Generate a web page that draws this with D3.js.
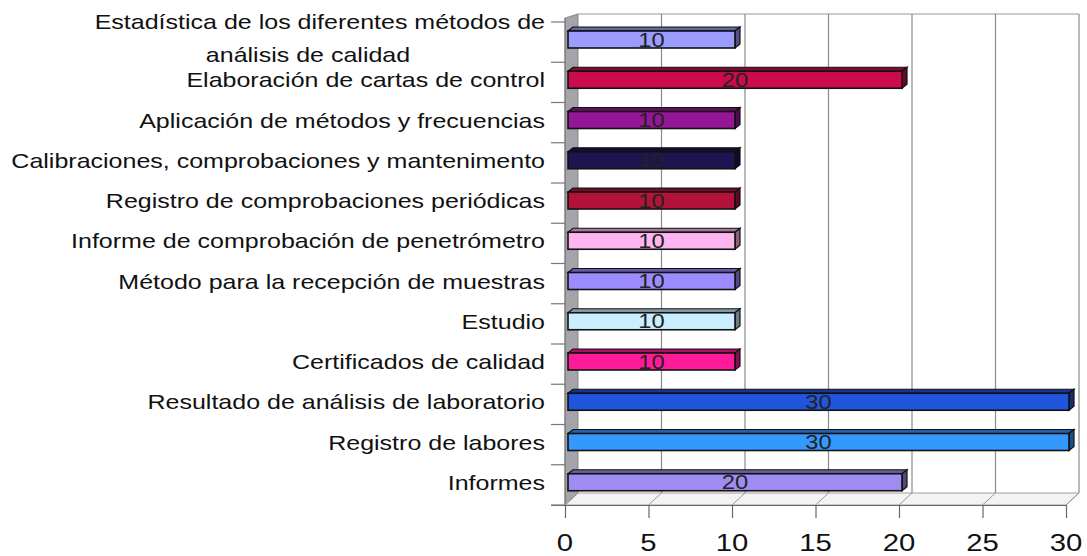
<!DOCTYPE html>
<html>
<head>
<meta charset="utf-8">
<script src="https://cdn.jsdelivr.net/npm/d3@7"></script>
<style>
  html, body { margin: 0; padding: 0; background: #fff; }
  svg { display: block; }
  text { font-family: "Liberation Sans", Arial, sans-serif; fill: #111; }
</style>
</head>
<body>
<svg id="chart" width="1087" height="556"></svg>
<script>
// Categories listed top to bottom
const categories = [
  "Estadística de los diferentes métodos de|análisis de calidad",
  "Elaboración de cartas de control",
  "Aplicación de métodos y frecuencias",
  "Calibraciones, comprobaciones y mantenimento",
  "Registro de comprobaciones periódicas",
  "Informe de comprobación de penetrómetro",
  "Método para la recepción de muestras",
  "Estudio",
  "Certificados de calidad",
  "Resultado de análisis de laboratorio",
  "Registro de labores",
  "Informes"
];
const values = [10, 20, 10, 10, 10, 10, 10, 10, 10, 30, 30, 20];
const barColors = [
  "#9c9cff", "#cc0a4e", "#951796", "#1e1450", "#b3123a", "#ffb6f0",
  "#9c8cff", "#caeeff", "#ff1a9a", "#2255dd", "#3399ff", "#a08cf0"
];
const xTickValues = [0, 5, 10, 15, 20, 25, 30];

const svg = d3.select("#chart");

// Front plane scale and depth offset of the 3D box
const x = d3.scaleLinear().domain([0, 30]).range([565, 1066]);
const y = d3.scaleBand().domain(categories).range([22, 505]);
const depthX = 13, depthY = -12;
const floorY = 505, wallTop = 14;
const stretch = 1.22;
const labelSize = "20.5px";

// Left side wall
svg.append("path")
  .attr("d", `M${x(0)},${floorY}L${x(0) + depthX},${floorY + depthY}L${x(0) + depthX},${wallTop}L${x(0)},${wallTop + 4}Z`)
  .attr("fill", "#a4a4aa").attr("stroke", "#777").attr("stroke-width", 0.8);

// Floor
svg.append("path")
  .attr("d", `M${x(0)},${floorY}L${x(30)},${floorY}L${x(30) + depthX},${floorY + depthY}L${x(0) + depthX},${floorY + depthY}Z`)
  .attr("fill", "#f3f3f3").attr("stroke", "#888").attr("stroke-width", 0.8);

// Back wall outline and vertical gridlines
svg.append("line")
  .attr("x1", x(0) + depthX).attr("x2", x(30) + depthX)
  .attr("y1", wallTop).attr("y2", wallTop)
  .attr("stroke", "#999").attr("stroke-width", 1.2);
svg.selectAll(".grid").data(xTickValues.slice(1)).join("line")
  .attr("x1", d => x(d) + depthX).attr("x2", d => x(d) + depthX)
  .attr("y1", wallTop).attr("y2", floorY + depthY)
  .attr("stroke", "#8a8a8a").attr("stroke-width", 1.2);
// Floor lines from the front ticks to the back wall
svg.selectAll(".floorline").data(xTickValues).join("line")
  .attr("x1", d => x(d)).attr("x2", d => x(d) + depthX)
  .attr("y1", floorY).attr("y2", floorY + depthY)
  .attr("stroke", "#999").attr("stroke-width", 1);

// Value axis along the front edge of the floor
const xAxis = svg.append("g").attr("transform", `translate(0,${floorY})`)
  .call(d3.axisBottom(x).tickValues(xTickValues).tickSize(13).tickFormat(""));
xAxis.select(".domain").attr("stroke", "#666").attr("stroke-width", 1.2)
  .attr("d", `M${x(0) - 14},0.5H${x(30)}`);
xAxis.selectAll(".tick line").attr("stroke", "#666").attr("stroke-width", 1.2);
svg.selectAll(".xlabel").data(xTickValues).join("text")
  .attr("transform", d => `translate(${x(d)},551) scale(${stretch},1)`)
  .attr("text-anchor", "middle")
  .style("font-size", "24px")
  .text(d => d);

// Category axis ticks at band boundaries
const bounds = categories.map(c => y(c)).concat([y.range()[1]]);
svg.selectAll(".ytick").data(bounds).join("line")
  .attr("x1", x(0) - 14).attr("x2", x(0))
  .attr("y1", d => d).attr("y2", d => d)
  .attr("stroke", "#777").attr("stroke-width", 1.2);
svg.append("line")
  .attr("x1", x(0)).attr("x2", x(0)).attr("y1", wallTop + 4).attr("y2", floorY)
  .attr("stroke", "#777").attr("stroke-width", 1);

// Category labels (first one spans two lines)
categories.forEach((c, i) => {
  const cy = y(c) + y.bandwidth() / 2;
  const parts = c.split("|");
  if (parts.length === 1) {
    svg.append("text")
      .attr("transform", `translate(545,${cy + 5}) scale(${stretch},1)`)
      .attr("text-anchor", "end")
      .style("font-size", labelSize)
      .text(c);
  } else {
    svg.append("text")
      .attr("transform", `translate(545,29) scale(${stretch},1)`)
      .attr("text-anchor", "end")
      .style("font-size", labelSize)
      .text(parts[0]);
    svg.append("text")
      .attr("transform", `translate(308,62) scale(${stretch},1)`)
      .attr("text-anchor", "middle")
      .style("font-size", labelSize)
      .text(parts[1]);
  }
});

// 3D bars: front face, top face and end cap
const bx = 3, bdx = 5, bdy = -4, bh = 17, boff = 9;
const bars = svg.selectAll(".bar").data(categories.map((c, i) => ({ c, v: values[i], col: barColors[i] })))
  .join("g");
bars.append("path")
  .attr("d", d => {
    const x0 = x(0) + bx, x1 = x(d.v) + bx, y0 = y(d.c) + boff;
    return `M${x0},${y0}L${x0 + bdx},${y0 + bdy}L${x1 + bdx},${y0 + bdy}L${x1},${y0}Z`;
  })
  .attr("fill", d => d3.color(d.col).darker(1.2))
  .attr("stroke", "#111").attr("stroke-width", 1.2);
bars.append("path")
  .attr("d", d => {
    const x1 = x(d.v) + bx, y0 = y(d.c) + boff;
    return `M${x1},${y0}L${x1 + bdx},${y0 + bdy}L${x1 + bdx},${y0 + bdy + bh}L${x1},${y0 + bh}Z`;
  })
  .attr("fill", d => d3.color(d.col).darker(1.8))
  .attr("stroke", "#111").attr("stroke-width", 1.2);
bars.append("rect")
  .attr("x", x(0) + bx)
  .attr("y", d => y(d.c) + boff)
  .attr("width", d => x(d.v) - x(0))
  .attr("height", bh)
  .attr("fill", d => d.col)
  .attr("stroke", "#111").attr("stroke-width", 1.6);

// Value labels centred on each bar
bars.append("text")
  .attr("transform", d => `translate(${(x(0) + x(d.v)) / 2 + bx},${y(d.c) + boff + bh / 2 + 7}) scale(${stretch},1)`)
  .attr("text-anchor", "middle")
  .style("font-size", "19.5px")
  .style("fill", "#222")
  .text(d => d.v);
</script>
</body>
</html>
